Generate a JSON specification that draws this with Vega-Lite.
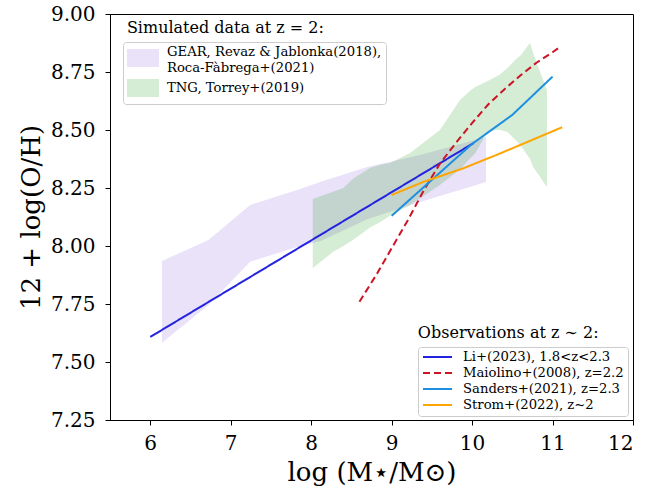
{
  "$schema": "https://vega.github.io/schema/vega-lite/v6.json",
  "width": 523,
  "height": 406,
  "autosize": {"type": "none"},
  "padding": {"left": 110, "top": 14, "right": 37, "bottom": 70},
  "config": {
    "font": "DejaVu Serif",
    "view": {"stroke": "black", "strokeWidth": 1},
    "axis": {
      "grid": false,
      "domainColor": "black",
      "tickColor": "black",
      "labelColor": "black",
      "titleColor": "black",
      "labelFont": "DejaVu Serif",
      "titleFont": "DejaVu Serif",
      "labelFontSize": 20,
      "titleFontSize": 26,
      "titleFontWeight": "normal",
      "tickSize": 5
    },
    "legend": {
      "labelFont": "DejaVu Serif",
      "labelColor": "black",
      "labelLimit": 400,
      "strokeColor": "#cccccc",
      "fillColor": "white",
      "cornerRadius": 3
    }
  },
  "datasets": {
    "bands": [
      {"sim": "GEAR", "x": 6.145, "lo": 7.583, "hi": 7.935},
      {"sim": "GEAR", "x": 6.724, "lo": 7.746, "hi": 8.026},
      {"sim": "GEAR", "x": 7.242, "lo": 7.932, "hi": 8.177},
      {"sim": "GEAR", "x": 7.826, "lo": 7.996, "hi": 8.241},
      {"sim": "GEAR", "x": 8.112, "lo": 8.02, "hi": 8.276},
      {"sim": "GEAR", "x": 8.696, "lo": 8.115, "hi": 8.341},
      {"sim": "GEAR", "x": 9.354, "lo": 8.19, "hi": 8.392},
      {"sim": "GEAR", "x": 10.174, "lo": 8.276, "hi": 8.47},
      {"sim": "TNG, Torrey+(2019)", "x": 8.02, "lo": 7.905, "hi": 8.203},
      {"sim": "TNG, Torrey+(2019)", "x": 8.27, "lo": 7.974, "hi": 8.234},
      {"sim": "TNG, Torrey+(2019)", "x": 8.4, "lo": 8.0, "hi": 8.25},
      {"sim": "TNG, Torrey+(2019)", "x": 8.52, "lo": 8.026, "hi": 8.29},
      {"sim": "TNG, Torrey+(2019)", "x": 8.73, "lo": 8.08, "hi": 8.336},
      {"sim": "TNG, Torrey+(2019)", "x": 8.86, "lo": 8.103, "hi": 8.35},
      {"sim": "TNG, Torrey+(2019)", "x": 8.98, "lo": 8.13, "hi": 8.358},
      {"sim": "TNG, Torrey+(2019)", "x": 9.23, "lo": 8.177, "hi": 8.401},
      {"sim": "TNG, Torrey+(2019)", "x": 9.6, "lo": 8.263, "hi": 8.5},
      {"sim": "TNG, Torrey+(2019)", "x": 9.85, "lo": 8.33, "hi": 8.629},
      {"sim": "TNG, Torrey+(2019)", "x": 9.98, "lo": 8.379, "hi": 8.67},
      {"sim": "TNG, Torrey+(2019)", "x": 10.04, "lo": 8.4, "hi": 8.685},
      {"sim": "TNG, Torrey+(2019)", "x": 10.19, "lo": 8.491, "hi": 8.71},
      {"sim": "TNG, Torrey+(2019)", "x": 10.29, "lo": 8.5, "hi": 8.728},
      {"sim": "TNG, Torrey+(2019)", "x": 10.35, "lo": 8.5, "hi": 8.74},
      {"sim": "TNG, Torrey+(2019)", "x": 10.44, "lo": 8.491, "hi": 8.767},
      {"sim": "TNG, Torrey+(2019)", "x": 10.56, "lo": 8.45, "hi": 8.81},
      {"sim": "TNG, Torrey+(2019)", "x": 10.6, "lo": 8.435, "hi": 8.82},
      {"sim": "TNG, Torrey+(2019)", "x": 10.72, "lo": 8.375, "hi": 8.875},
      {"sim": "TNG, Torrey+(2019)", "x": 10.76, "lo": 8.341, "hi": 8.83},
      {"sim": "TNG, Torrey+(2019)", "x": 10.93, "lo": 8.254, "hi": 8.672}
    ],
    "lines": [
      {"series": "Li+(2023), 1.8<z<2.3", "x": 6.0, "y": 7.608},
      {"series": "Li+(2023), 1.8<z<2.3", "x": 10.02, "y": 8.444},
      {"series": "Maiolino+(2008), z=2.2", "x": 8.6, "y": 7.76},
      {"series": "Maiolino+(2008), z=2.2", "x": 8.8, "y": 7.87},
      {"series": "Maiolino+(2008), z=2.2", "x": 9.0, "y": 7.99},
      {"series": "Maiolino+(2008), z=2.2", "x": 9.2, "y": 8.11},
      {"series": "Maiolino+(2008), z=2.2", "x": 9.4, "y": 8.24},
      {"series": "Maiolino+(2008), z=2.2", "x": 9.6, "y": 8.355},
      {"series": "Maiolino+(2008), z=2.2", "x": 9.8, "y": 8.445},
      {"series": "Maiolino+(2008), z=2.2", "x": 10.0, "y": 8.53},
      {"series": "Maiolino+(2008), z=2.2", "x": 10.2, "y": 8.61},
      {"series": "Maiolino+(2008), z=2.2", "x": 10.4, "y": 8.675},
      {"series": "Maiolino+(2008), z=2.2", "x": 10.6, "y": 8.735},
      {"series": "Maiolino+(2008), z=2.2", "x": 10.8, "y": 8.79},
      {"series": "Maiolino+(2008), z=2.2", "x": 11.0, "y": 8.835},
      {"series": "Maiolino+(2008), z=2.2", "x": 11.1, "y": 8.86},
      {"series": "Sanders+(2021), z=2.3", "x": 9.0, "y": 8.13},
      {"series": "Sanders+(2021), z=2.3", "x": 9.5, "y": 8.285},
      {"series": "Sanders+(2021), z=2.3", "x": 10.0, "y": 8.44},
      {"series": "Sanders+(2021), z=2.3", "x": 10.5, "y": 8.565},
      {"series": "Sanders+(2021), z=2.3", "x": 11.0, "y": 8.73},
      {"series": "Strom+(2022), z~2", "x": 9.0, "y": 8.22},
      {"series": "Strom+(2022), z~2", "x": 9.4, "y": 8.277},
      {"series": "Strom+(2022), z~2", "x": 9.9, "y": 8.336},
      {"series": "Strom+(2022), z~2", "x": 10.3, "y": 8.392},
      {"series": "Strom+(2022), z~2", "x": 10.65, "y": 8.443},
      {"series": "Strom+(2022), z~2", "x": 11.12, "y": 8.512}
    ]
  },
  "layer": [
    {
      "data": {"name": "bands"},
      "transform": [{"filter": "datum.sim == 'GEAR'"}],
      "mark": {"type": "area", "opacity": 0.2},
      "encoding": {
        "x": {"field": "x", "type": "quantitative", "scale": {"domain": [5.5, 12], "nice": false, "zero": false},
              "axis": {"title": "log (M⋆/M⊙)", "values": [6, 7, 8, 9, 10, 11, 12], "format": "d", "labelPadding": 8, "titlePadding": 6}},
        "y": {"field": "lo", "type": "quantitative", "scale": {"domain": [7.25, 9.0], "nice": false, "zero": false},
              "axis": {"title": "12 + log(O/H)", "values": [7.25, 7.5, 7.75, 8.0, 8.25, 8.5, 8.75, 9.0], "format": ".2f", "labelPadding": 10, "titlePadding": 6}},
        "y2": {"field": "hi"},
        "fill": {"field": "sim", "type": "nominal",
                 "scale": {"domain": ["GEAR", "TNG, Torrey+(2019)"], "range": ["#9370db", "#2ca02c"]},
                 "legend": {"orient": "none", "legendX": 13, "legendY": 28, "title": null,
                            "symbolType": "M-1,-0.56H1V0.56H-1Z", "symbolSize": 1024, "symbolOpacity": 0.2,
                            "symbolStrokeWidth": 0, "labelFontSize": 13.2, "labelOffset": 8, "padding": 4,
                            "clipHeight": 24, "rowPadding": 1,
                            "labelExpr": "datum.label == 'GEAR' ? ['GEAR, Revaz & Jablonka(2018),', 'Roca-Fàbrega+(2021)'] : datum.label",
                            "encode": {"labels": {"update": {"lineHeight": {"value": 16}, "dy": {"signal": "datum.value == 'GEAR' ? -6 : 0"}}}}}}
      }
    },
    {
      "data": {"name": "bands"},
      "transform": [{"filter": "datum.sim != 'GEAR'"}],
      "mark": {"type": "area", "opacity": 0.2},
      "encoding": {
        "x": {"field": "x", "type": "quantitative"},
        "y": {"field": "lo", "type": "quantitative"},
        "y2": {"field": "hi"},
        "fill": {"field": "sim", "type": "nominal"}
      }
    },
    {
      "data": {"name": "lines"},
      "mark": {"type": "line", "strokeWidth": 2},
      "encoding": {
        "x": {"field": "x", "type": "quantitative"},
        "y": {"field": "y", "type": "quantitative"},
        "stroke": {"field": "series", "type": "nominal",
                   "scale": {"domain": ["Li+(2023), 1.8<z<2.3", "Maiolino+(2008), z=2.2", "Sanders+(2021), z=2.3", "Strom+(2022), z~2"],
                             "range": ["#2424e0", "#cc1426", "#1e8fe0", "#ffa500"]},
                   "legend": {"orient": "none", "legendX": 308, "legendY": 333, "title": null,
                              "symbolType": "stroke", "symbolSize": 841, "symbolStrokeWidth": 2,
                              "labelFontSize": 13.2, "labelOffset": 10, "padding": 4, "clipHeight": 12, "rowPadding": 2}},
        "strokeDash": {"field": "series", "type": "nominal",
                       "scale": {"domain": ["Li+(2023), 1.8<z<2.3", "Maiolino+(2008), z=2.2", "Sanders+(2021), z=2.3", "Strom+(2022), z~2"],
                                 "range": [[1, 0], [7, 4], [1, 0], [1, 0]]},
                       "legend": {"orient": "none", "legendX": 308, "legendY": 333, "title": null,
                                  "symbolType": "stroke", "symbolSize": 841, "symbolStrokeWidth": 2,
                                  "labelFontSize": 13.2, "labelOffset": 10, "padding": 4, "clipHeight": 12, "rowPadding": 2}}
      }
    },
    {
      "data": {"values": [{"t": "Simulated data at z = 2:"}]},
      "mark": {"type": "text", "align": "left", "baseline": "middle", "fontSize": 16, "font": "DejaVu Serif", "color": "black"},
      "encoding": {
        "x": {"datum": 5.71, "type": "quantitative"},
        "y": {"datum": 8.94, "type": "quantitative"},
        "text": {"field": "t"}
      }
    },
    {
      "data": {"values": [{"t": "Observations at z ∼ 2:"}]},
      "mark": {"type": "text", "align": "left", "baseline": "middle", "fontSize": 16, "font": "DejaVu Serif", "color": "black"},
      "encoding": {
        "x": {"datum": 9.326, "type": "quantitative"},
        "y": {"datum": 7.625, "type": "quantitative"},
        "text": {"field": "t"}
      }
    }
  ]
}
